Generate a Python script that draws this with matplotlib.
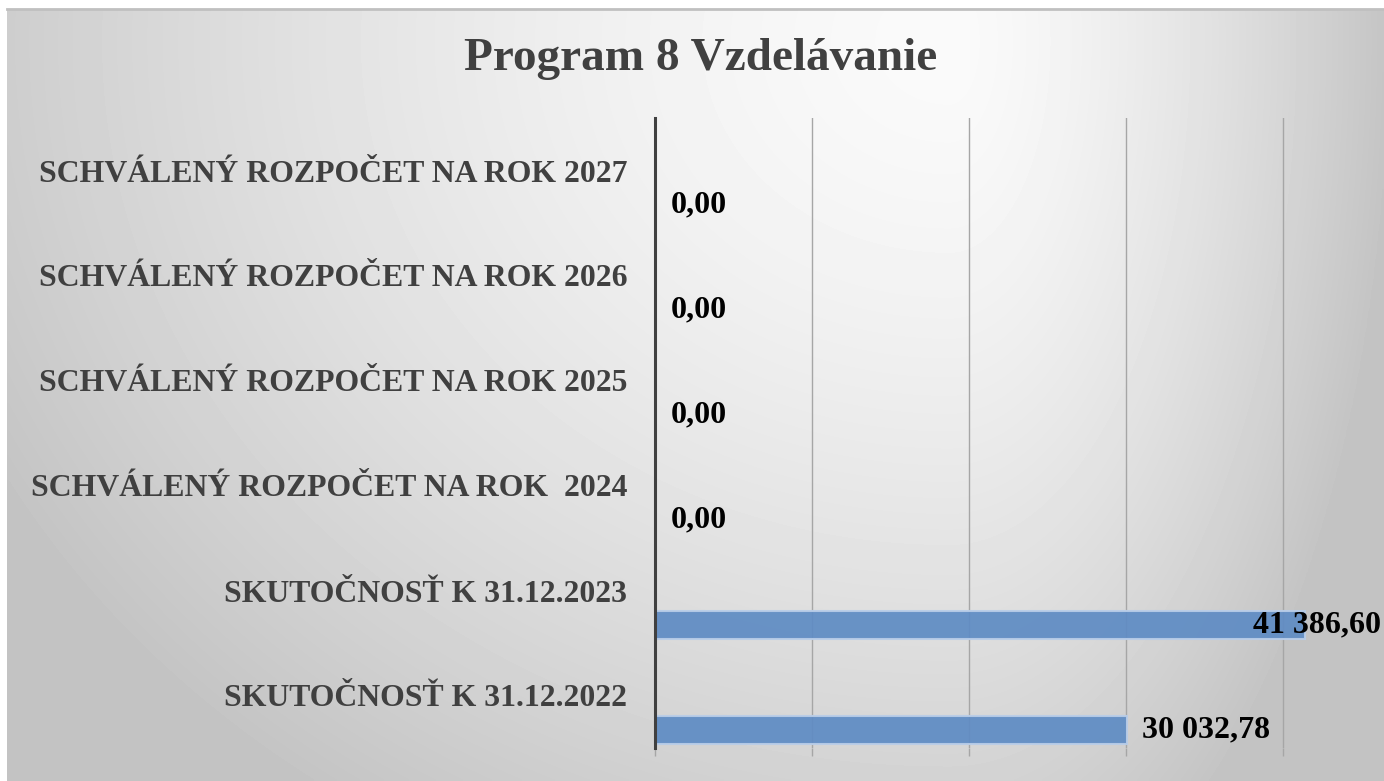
import numpy as np
import matplotlib.pyplot as plt

# kategórie odspodu nahor
kategorie = ["SKUTOČNOSŤ K 31.12.2022", "SKUTOČNOSŤ K 31.12.2023",
             "SCHVÁLENÝ ROZPOČET NA ROK  2024", "SCHVÁLENÝ ROZPOČET NA ROK 2025",
             "SCHVÁLENÝ ROZPOČET NA ROK 2026", "SCHVÁLENÝ ROZPOČET NA ROK 2027"]
hodnoty = [30032.78, 41386.60, 0.0, 0.0, 0.0, 0.0]
nazov = "Program 8 Vzdelávanie"


def fmt(v):
    s = f"{v:,.2f}"
    return s.replace(",", " ").replace(".", ",")


plt.rcParams['font.family'] = ['Liberation Serif', 'DejaVu Serif']
W, H = 1384, 781
fig = plt.figure(figsize=(W / 100, H / 100), dpi=100)
fig.patch.set_facecolor('white')

# pozadie s prechodom
bg = fig.add_axes([7 / W, 0, 1 - 7 / W, 1 - 9 / H])
bg.set_axis_off()
xx, yy = np.meshgrid(np.linspace(7, W, 400), np.linspace(9, H, 250))
sx = np.where(xx < 950, 1050, 430)
r = np.sqrt(((xx - 950) / sx) ** 2 + ((yy - 40) / 900) ** 2)
v = np.clip(250 - 52 * r ** 1.5, 196, 250) / 255
bg.imshow(v, cmap='gray', vmin=0, vmax=1, aspect='auto', extent=[0, 1, 0, 1],
          interpolation='bilinear')
bg.set_xlim(0, 1)
bg.set_ylim(0, 1)
fig.add_artist(plt.Line2D([7 / W, 1], [1 - 9 / H, 1 - 9 / H], color='#c0c0c0', lw=2))

ax = fig.add_axes([655 / W, 1 - 748 / H, 706.5 / W, 630 / H])
ax.patch.set_alpha(0)
y = np.arange(len(kategorie))
ax.barh(y - 0.33, hodnoty, height=0.27, color='#5F8CC4', edgecolor='#B9CDE8',
        linewidth=1.5, alpha=0.93, zorder=3)
ax.set_xlim(0, 45000)
ax.set_ylim(-0.5, len(kategorie) - 0.5)
ax.set_xticks(np.arange(0, 45000, 10000))
ax.set_xticklabels([])
ax.grid(axis='x', color='#a6a6a6', lw=1, zorder=1)
ax.tick_params(axis='x', length=6, color='#a6a6a6', width=1)
ax.set_yticks(y)
ax.set_yticklabels(kategorie, fontsize=22.9, fontweight='bold', color='#404040')
ax.tick_params(axis='y', length=0, pad=20)
for s in ['top', 'right', 'bottom']:
    ax.spines[s].set_visible(False)
ax.spines['left'].set_color('#404040')
ax.spines['left'].set_linewidth(2.2)
ax.spines['left'].set_zorder(4)

for yi, val in zip(y, hodnoty):
    if val > 40000:
        # popis posunutý doľava, aby sa zmestil
        ax.text(1.0 + (1381 - 1361.5) / 706.5, yi - 0.33, fmt(val),
                transform=ax.get_yaxis_transform(), ha='right', va='center',
                fontsize=23, fontweight='bold', color='black', zorder=5, clip_on=False)
    else:
        ax.annotate(fmt(val), xy=(val, yi - 0.33), xytext=(11, 0), textcoords='offset points',
                    ha='left', va='center', fontsize=23, fontweight='bold', color='black',
                    zorder=5)

fig.text(701 / W, 1 - 59 / H, nazov, ha='center', va='center', fontsize=34,
         fontweight='bold', color='#404040')

fig.savefig('out.png', dpi=100)
